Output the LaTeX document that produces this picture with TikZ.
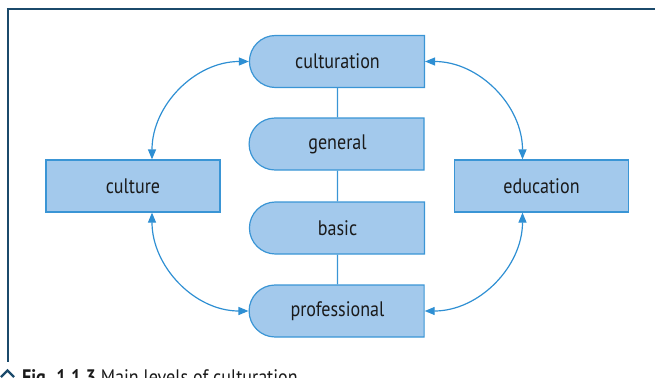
\documentclass[tikz,border=0pt]{standalone}
\usepackage{fontspec}
\setmainfont{PT Sans}[FakeStretch=0.86]
\usetikzlibrary{shapes.misc,arrows.meta}
\definecolor{boxfill}{HTML}{A3C9EC}
\definecolor{boxline}{HTML}{3A95D5}
\definecolor{arrowc}{HTML}{2E8FD3}
\definecolor{navy}{HTML}{1B4A6B}
\definecolor{txt}{HTML}{1A1A1A}
\begin{document}
\begin{tikzpicture}[x=1pt,y=1pt,
  lvl/.style={rounded rectangle, rounded rectangle right arc=none, draw=boxline, fill=boxfill,
    line width=1.2pt, minimum width=175pt, minimum height=52pt, inner sep=0pt,
    text=txt, font=\fontsize{21}{24}\selectfont},
  side/.style={rectangle, draw=boxline, fill=boxfill, line width=1.2pt,
    minimum width=174pt, minimum height=52pt, inner sep=0pt,
    text=txt, font=\fontsize{21}{24}\selectfont},
  link/.style={draw=arrowc, line width=1.2pt,
    {Triangle[length=10pt,width=8pt]}-{Triangle[length=10pt,width=8pt]}},
  stem/.style={draw=boxline, line width=1.2pt},
  frame/.style={draw=navy, line width=2.5pt}]
\useasboundingbox (0,0) rectangle (655,-377);
% frame
\draw[frame] (6.75,-9) -- (656,-9);
\draw[frame] (8,-9) -- (8,-362);
% nodes
\node[lvl] (cult) at (337.5,-61.5) {culturation};
\node[lvl] (gen)  at (337.5,-144) {general};
\node[lvl] (bas)  at (337.5,-228) {basic};
\node[lvl] (prof) at (337.5,-311) {professional};
\node[side] (cultr) at (133,-186) {culture};
\node[side] (edu)   at (541.5,-186) {education};
% stems
\draw[stem] (cult) -- (gen);
\draw[stem] (gen) -- (bas);
\draw[stem] (bas) -- (prof);
% links
\draw[link] ([xshift=19pt]cultr.north) to[out=90,in=180] (cult.west);
\draw[link] ([xshift=19pt]cultr.south) to[out=-90,in=180] (prof.west);
\draw[link] (cult.east) to[out=0,in=90] ([xshift=-19pt]edu.north);
\draw[link] (prof.east) to[out=0,in=-90] ([xshift=-19pt]edu.south);
% caption
\draw[navy, line width=2.2pt] (1,-377) -- (7.5,-370.5) -- (14,-377);
\node[anchor=base west, inner sep=0pt, text=txt, font=\fontsize{21}{24}\selectfont] (cap) at (22,-384)
  {\textbf{Fig. 1.1.3} Main levels of culturation};
\end{tikzpicture}
\end{document}
